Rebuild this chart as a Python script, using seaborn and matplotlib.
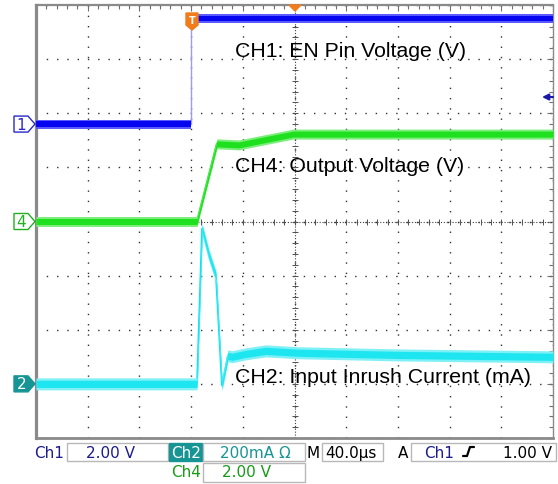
import matplotlib
matplotlib.use("Agg")
import matplotlib.pyplot as plt
import matplotlib.transforms as mtransforms
from matplotlib.lines import Line2D
from matplotlib.patches import Polygon, Rectangle
import numpy as np
import pandas as pd
import seaborn as sns

# ── values ───────────────────────────────────────────────────────────────────
ch1_time_us = [-120, 0, 0, 280]
ch1_volts   = [0.0, 0.0, 3.9, 3.9]

ch4_time_us = [-120, 4.6, 20, 37, 60, 79, 280]
ch4_volts   = [0.0, 0.0, 2.87, 2.83, 3.05, 3.23, 3.23]

ch2_time_us = [-120, 4.6, 8.5, 13.9, 19.3, 23.9, 28.5, 31.6, 42.4, 57.8, 83, 160, 280]
ch2_ma      = [0, 0, 574, 474, 396, -5, 104, 100, 111, 122, 115, 107, 100]

# scope settings: units per division, ground marker position in divisions
CH1_SCALE, CH1_OFFSET = 2.0, 1.8
CH4_SCALE, CH4_OFFSET = 2.0, 0.0
CH2_SCALE, CH2_OFFSET = 200.0, -3.0
TIME_PER_DIV = 40.0
TRIG_LEVEL_V = 1.0

labels = ["CH1: EN Pin Voltage (V)", "CH4: Output Voltage (V)", "CH2: Input Inrush Current (mA)"]

# ── figure setup ─────────────────────────────────────────────────────────────
W, H = 558, 485
sns.set_style("white")
plt.rcParams["font.family"] = ["Liberation Sans", "DejaVu Sans"]

fig = plt.figure(figsize=(W / 100, H / 100), dpi=100)
fig.patch.set_facecolor("white")
ax = fig.add_axes([36 / W, 1 - 439 / H, 517 / W, 433 / H])
PX_PER_DIV = 433 / 8


def fx(px):
    return px / W


def fy(py):
    return 1 - py / H


# ── traces ───────────────────────────────────────────────────────────────────
def trace(t, vals, scale, offset, core, inner, outer, band_px, core_lw):
    y = np.array(vals, dtype=float) / scale + offset
    b_out = band_px / PX_PER_DIV
    b_in = band_px * 0.6 / PX_PER_DIV
    df = pd.DataFrame({"t": t, "div": y})
    # thin core shows on the fast edges, the noise band covers it elsewhere
    sns.lineplot(data=df, x="t", y="div", color=core, lw=core_lw,
                 estimator=None, sort=False, ax=ax, zorder=2.5)
    ax.fill_between(t, y - b_out, y + b_out, color=outer, lw=0, zorder=3)
    ax.fill_between(t, y - b_in, y + b_in, color=inner, lw=0, zorder=3)


trace(ch1_time_us, ch1_volts, CH1_SCALE, CH1_OFFSET,
      "#9a9aff", "#0505f0", "#5a5aff", 4.5, 1.0)
trace(ch4_time_us, ch4_volts, CH4_SCALE, CH4_OFFSET,
      "#18dd18", "#1ee01e", "#7cee7c", 5.0, 1.6)
trace(ch2_time_us, ch2_ma, CH2_SCALE, CH2_OFFSET,
      "#10e4f0", "#1ee6f0", "#7ff0f6", 6.0, 1.4)

# ── graticule ────────────────────────────────────────────────────────────────
ax.set_xlim(-3 * TIME_PER_DIV, 7 * TIME_PER_DIV)
ax.set_ylim(-4, 4)
ax.set_xticks(np.arange(-120, 281, 40))
ax.set_yticks(np.arange(-4, 5, 1))
ax.set_xticks(np.arange(-120, 281, 8), minor=True)
ax.set_yticks(np.arange(-4, 4.01, 0.2), minor=True)
ax.set_xticklabels([])
ax.set_yticklabels([])
ax.set_xlabel("")
ax.set_ylabel("")
ax.tick_params(which="both", direction="in", top=True, right=True,
               color="#707070", width=0.8)
ax.tick_params(which="major", length=4)
ax.tick_params(which="minor", length=3)
ax.grid(which="major", ls=(0, (1, 6.4)), lw=1.0, color="#303030", zorder=1)

center_t = 2 * TIME_PER_DIV
ax.axhline(0, ls=(0, (1, 1.6)), lw=0.8, color="#404040", zorder=1)
ax.axvline(center_t, ls=(0, (1, 1.6)), lw=0.8, color="#404040", zorder=1)
ax.plot(np.arange(-120, 281, 8), np.zeros(51), ls="none", marker="|",
        ms=5, mew=0.7, color="#505050", zorder=1)
ax.plot(np.full(41, center_t), np.arange(-4, 4.01, 0.2), ls="none", marker="_",
        ms=5, mew=0.7, color="#505050", zorder=1)

for side, lw in [("left", 2.3), ("bottom", 2.0), ("top", 1.6), ("right", 1.0)]:
    ax.spines[side].set_color("#8a8a8a")
    ax.spines[side].set_linewidth(lw)
    ax.spines[side].set_visible(True)

# ── on-screen labels ─────────────────────────────────────────────────────────
ax.text(34, 3.06, labels[0], fontsize=15.3, color="black", va="baseline", zorder=5)
ax.text(34, 0.93, labels[1], fontsize=15.3, color="black", va="baseline", zorder=5)
ax.text(34, -2.97, labels[2], fontsize=15.3, color="black", va="baseline", zorder=5)

# ── ground markers on the left edge ──────────────────────────────────────────
trans = mtransforms.blended_transform_factory(fig.transFigure, ax.transData)
h = 8 / PX_PER_DIV


def ground_marker(label, level, edge, face, txt):
    pts = [(fx(14), level + h), (fx(28), level + h), (fx(35), level),
           (fx(28), level - h), (fx(14), level - h)]
    ax.add_patch(Polygon(pts, closed=True, transform=trans, fc=face, ec=edge,
                         lw=1.0, clip_on=False, zorder=6))
    ax.text(fx(21.5), level, label, transform=trans, ha="center", va="center",
            color=txt, fontsize=11, family="DejaVu Sans", clip_on=False, zorder=7)


ground_marker("1", CH1_OFFSET, "#2a2ac8", "white", "#2a2ac8")
ground_marker("4", CH4_OFFSET, "#20b020", "white", "#20b020")
ground_marker("2", CH2_OFFSET, "#179494", "#179494", "white")

# trigger level arrow (right edge)
trig_y = CH1_OFFSET + TRIG_LEVEL_V / CH1_SCALE
ax.annotate("", xy=(fx(542), trig_y), xytext=(fx(553), trig_y),
            xycoords=trans, textcoords=trans,
            arrowprops=dict(arrowstyle="-|>", color="#1a1aa8", lw=1.5,
                            mutation_scale=9, shrinkA=0, shrinkB=0),
            annotation_clip=False, zorder=7)

# trigger position "T" marker and horizontal position marker
fig.patches.append(Polygon([(fx(186), fy(14)), (fx(198), fy(14)), (fx(198), fy(26)),
                            (fx(192), fy(31)), (fx(186), fy(26))],
                           closed=True, transform=fig.transFigure,
                           fc="#f07c1c", ec="#f07c1c", zorder=8))
fig.text(fx(192), fy(21), "T", color="white", fontsize=7, fontweight="bold",
         ha="center", va="center", family="DejaVu Sans", zorder=9)
fig.patches.append(Polygon([(fx(289), fy(6)), (fx(301), fy(6)), (fx(295), fy(12))],
                           closed=True, transform=fig.transFigure,
                           fc="#f07c1c", ec="#f07c1c", zorder=8))

# ── status bar ───────────────────────────────────────────────────────────────
NAVY, TEAL, GREEN = "#1c1c8c", "#179494", "#169c16"


def box(x0, y0, x1, y1, fc="white", ec="#b8b8b8"):
    fig.patches.append(Rectangle((fx(x0), fy(y1)), fx(x1) - fx(x0), fy(y0) - fy(y1),
                                 transform=fig.transFigure, fc=fc, ec=ec, lw=1.0))


def status(x, y, s, color):
    fig.text(fx(x), fy(y), s, color=color, fontsize=11, family="DejaVu Sans",
             ha="left", va="baseline")


box(67, 444, 168, 462)
box(169, 444, 202, 462, fc=TEAL, ec=TEAL)
box(203, 444, 305, 462)
box(322, 444, 383, 462)
box(411, 444, 556, 462)
box(203, 464, 305, 483)

status(34, 458, "Ch1", NAVY)
status(86, 458, "2.00 V", NAVY)
status(171, 458, "Ch2", "white")
status(220, 458, "200mA Ω", TEAL)
status(307, 458, "M", "black")
status(325, 458, "40.0µs", "black")
status(398, 458, "A", "black")
status(424, 458, "Ch1", NAVY)
status(503, 458, "1.00 V", "black")
status(171, 477, "Ch4", GREEN)
status(222, 477, "2.00 V", GREEN)

# rising-edge slope symbol
fig.lines.append(Line2D([fx(463), fx(467), fx(470), fx(474)],
                        [fy(457), fy(457), fy(448), fy(448)],
                        transform=fig.transFigure, color="black", lw=1.6))

fig.savefig("out.png", dpi=100)
